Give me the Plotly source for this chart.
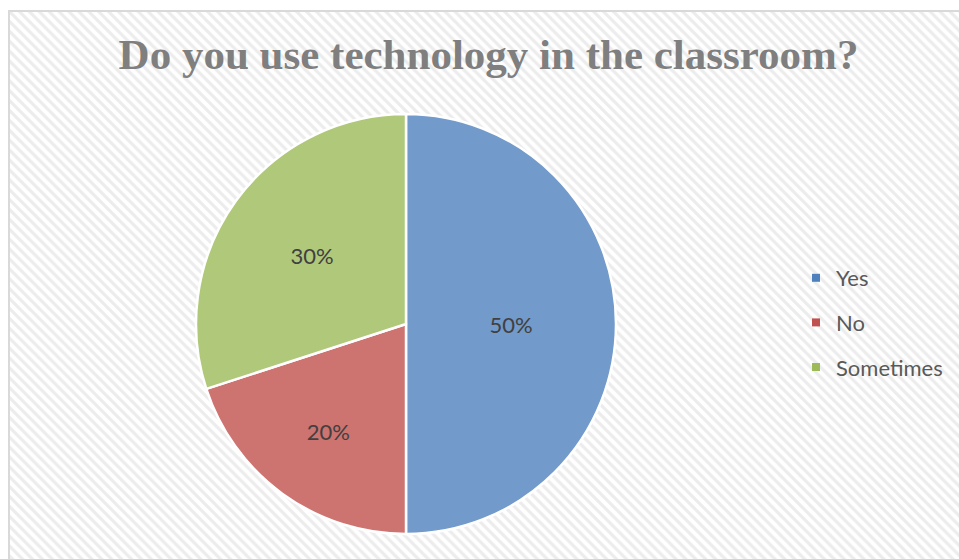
import plotly.graph_objects as go

categories = ["Yes", "No", "Sometimes"]
shares = [50, 20, 30]
title_text = "Do you use technology in the classroom?"

slice_colors = ["#729ACA", "#CD7370", "#AFC87A"]
legend_colors = ["#4F81BD", "#C0504D", "#9BBB59"]

W, H = 959, 559

fig = go.Figure()

# hatched chart-area background
fig.add_trace(go.Bar(
    x=[0.5], y=[1], width=[1], xaxis="x", yaxis="y",
    marker=dict(color="white", line=dict(width=0),
                pattern=dict(shape="\\", fgcolor="#D9D9D9", bgcolor="white",
                             size=7, solidity=0.45)),
    showlegend=False, hoverinfo="skip",
))

fig.add_trace(go.Pie(
    labels=categories, values=shares, sort=False, direction="clockwise",
    rotation=0,
    marker=dict(colors=slice_colors, line=dict(color="white", width=2.5)),
    textinfo="percent", textposition="inside",
    insidetextorientation="horizontal",
    textfont=dict(family="Lato", size=22, color="#404040"),
    domain=dict(x=[196 / W, 616 / W], y=[1 - 534 / H, 1 - 114 / H]),
    showlegend=False, hoverinfo="label+percent",
))

for c, col in zip(categories, legend_colors):
    fig.add_trace(go.Scatter(
        x=[None], y=[None], mode="markers", name=c, legendgroup=c,
        marker=dict(symbol="square", size=8, color=col),
        xaxis="x", yaxis="y",
    ))

fig.update_layout(
    width=W, height=H,
    margin=dict(l=0, r=0, t=0, b=0),
    paper_bgcolor="white", plot_bgcolor="white",
    xaxis=dict(domain=[9 / W, 1], range=[0, 1], visible=False, fixedrange=True),
    yaxis=dict(domain=[0, 1 - 11 / H], range=[0, 1], visible=False, fixedrange=True),
    bargap=0,
    title=dict(text="<b>" + title_text + "</b>", x=488.5 / W, xanchor="center",
               y=1 - 54 / H, yanchor="middle",
               font=dict(family="Liberation Serif", size=43, color="#7F7F7F")),
    legend=dict(x=796 / W, xanchor="left", y=1 - 257 / H, yanchor="top",
                font=dict(family="Lato", size=22, color="#595959"),
                tracegroupgap=13, bgcolor="rgba(0,0,0,0)", itemwidth=30),
    shapes=[dict(type="rect", xref="paper", yref="paper",
                 x0=9 / W, x1=1.02, y0=-0.02, y1=1 - 11 / H,
                 line=dict(color="#D9D9D9", width=2))],
)

fig.write_html("out.html", config={"displayModeBar": False},
               post_script="document.body.style.margin='0';document.body.style.overflow='hidden';")
